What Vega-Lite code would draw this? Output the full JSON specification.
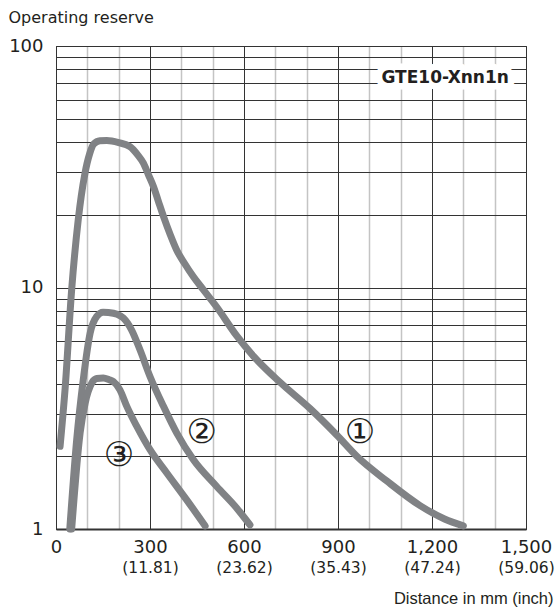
{
  "$schema": "https://vega.github.io/schema/vega-lite/v6.json",
  "width": 470,
  "height": 483,
  "autosize": {"type": "none"},
  "padding": {"left": 56, "top": 46, "right": 29, "bottom": 82},
  "background": "white",
  "config": {
    "font": "DejaVu Sans",
    "view": {"stroke": "#333333", "strokeWidth": 1}
  },
  "datasets": {
    "curves": [
      {"curve": "1", "d": 13, "r": 2.2},
      {"curve": "1", "d": 29, "r": 3.8},
      {"curve": "1", "d": 50, "r": 9.8},
      {"curve": "1", "d": 71, "r": 19.1},
      {"curve": "1", "d": 92, "r": 29.5},
      {"curve": "1", "d": 108, "r": 36},
      {"curve": "1", "d": 120, "r": 39.2},
      {"curve": "1", "d": 140, "r": 40.5},
      {"curve": "1", "d": 162, "r": 40.6},
      {"curve": "1", "d": 200, "r": 39.8},
      {"curve": "1", "d": 236, "r": 38.3},
      {"curve": "1", "d": 260, "r": 35.5},
      {"curve": "1", "d": 279, "r": 32.7},
      {"curve": "1", "d": 295, "r": 29.3},
      {"curve": "1", "d": 311, "r": 26.2},
      {"curve": "1", "d": 327, "r": 22.7},
      {"curve": "1", "d": 343, "r": 19.7},
      {"curve": "1", "d": 365, "r": 16.5},
      {"curve": "1", "d": 385, "r": 14.3},
      {"curve": "1", "d": 410, "r": 12.6},
      {"curve": "1", "d": 438, "r": 11.1},
      {"curve": "1", "d": 470, "r": 9.8},
      {"curve": "1", "d": 513, "r": 8.3},
      {"curve": "1", "d": 577, "r": 6.3},
      {"curve": "1", "d": 630, "r": 5.2},
      {"curve": "1", "d": 715, "r": 4.05},
      {"curve": "1", "d": 811, "r": 3.15},
      {"curve": "1", "d": 896, "r": 2.45},
      {"curve": "1", "d": 960, "r": 2.0},
      {"curve": "1", "d": 1056, "r": 1.58},
      {"curve": "1", "d": 1162, "r": 1.25},
      {"curve": "1", "d": 1240, "r": 1.1},
      {"curve": "1", "d": 1300, "r": 1.03},
      {"curve": "2", "d": 44, "r": 1.0},
      {"curve": "2", "d": 66, "r": 2.34},
      {"curve": "2", "d": 87, "r": 4.15},
      {"curve": "2", "d": 109, "r": 6.48},
      {"curve": "2", "d": 130, "r": 7.59},
      {"curve": "2", "d": 150, "r": 7.9},
      {"curve": "2", "d": 167, "r": 7.88},
      {"curve": "2", "d": 195, "r": 7.75},
      {"curve": "2", "d": 215, "r": 7.47},
      {"curve": "2", "d": 241, "r": 6.68},
      {"curve": "2", "d": 268, "r": 5.52},
      {"curve": "2", "d": 300, "r": 4.28},
      {"curve": "2", "d": 343, "r": 3.22},
      {"curve": "2", "d": 385, "r": 2.5},
      {"curve": "2", "d": 438, "r": 1.94},
      {"curve": "2", "d": 513, "r": 1.5},
      {"curve": "2", "d": 577, "r": 1.22},
      {"curve": "2", "d": 619, "r": 1.04},
      {"curve": "3", "d": 50, "r": 1.0},
      {"curve": "3", "d": 77, "r": 2.5},
      {"curve": "3", "d": 93, "r": 3.32},
      {"curve": "3", "d": 114, "r": 4.02},
      {"curve": "3", "d": 130, "r": 4.2},
      {"curve": "3", "d": 151, "r": 4.22},
      {"curve": "3", "d": 170, "r": 4.15},
      {"curve": "3", "d": 183, "r": 4.08},
      {"curve": "3", "d": 204, "r": 3.77},
      {"curve": "3", "d": 226, "r": 3.22},
      {"curve": "3", "d": 258, "r": 2.66},
      {"curve": "3", "d": 300, "r": 2.13},
      {"curve": "3", "d": 353, "r": 1.71},
      {"curve": "3", "d": 417, "r": 1.32},
      {"curve": "3", "d": 476, "r": 1.03}
    ],
    "numbers": [
      {"label": "①", "d": 970, "r": 2.5},
      {"label": "②", "d": 465, "r": 2.5},
      {"label": "③", "d": 201, "r": 2.0}
    ],
    "model": [
      {"label": "GTE10-Xnn1n", "d": 1242, "r": 74}
    ]
  },
  "layer": [
    {
      "data": {"name": "curves"},
      "mark": {"type": "line", "interpolate": "monotone", "strokeWidth": 7, "color": "#808285", "strokeCap": "round", "strokeJoin": "round"},
      "encoding": {
        "x": {
          "field": "d", "type": "quantitative",
          "scale": {"domain": [0, 1500], "nice": false, "zero": false},
          "axis": {
            "orient": "bottom",
            "values": [100, 200, 400, 500, 700, 800, 1000, 1100, 1300, 1400],
            "grid": true, "gridColor": "#c4c4c4", "gridWidth": 1.5,
            "labels": false, "ticks": false, "domain": false, "title": null
          }
        },
        "y": {
          "field": "r", "type": "quantitative",
          "scale": {"type": "log", "domain": [1, 100], "nice": false},
          "axis": {
            "orient": "left",
            "values": [1, 2, 3, 4, 5, 6, 7, 8, 9, 10, 20, 30, 40, 50, 60, 70, 80, 90, 100],
            "format": ".0f",
            "labelExpr": "(datum.value == 1 || datum.value == 10 || datum.value == 100) ? datum.label : ''",
            "labelOverlap": false,
            "grid": true, "gridColor": "#333333", "gridWidth": 1,
            "ticks": false, "domain": true, "domainColor": "#333333", "domainWidth": 1,
            "labelFontSize": 18, "labelColor": "#231f20", "labelPadding": 13,
            "title": "Operating reserve",
            "titleAngle": 0, "titleAlign": "left", "titleBaseline": "middle",
            "titleX": -48, "titleY": -29,
            "titleFontSize": 16, "titleFontWeight": "normal", "titleColor": "#231f20"
          }
        },
        "detail": {"field": "curve"}
      }
    },
    {
      "data": {"name": "model"},
      "mark": {"type": "text", "fontWeight": "bold", "fontSize": 17, "fill": "white", "stroke": "white", "strokeWidth": 13, "strokeJoin": "round", "align": "center", "baseline": "middle"},
      "encoding": {
        "x": {
          "field": "d", "type": "quantitative",
          "scale": {"domain": [0, 1500], "nice": false, "zero": false},
          "axis": {
            "orient": "bottom",
            "values": [0, 300, 600, 900, 1200, 1500],
            "format": ",.0f",
            "labelOverlap": false, "labelFlush": false,
            "grid": true, "gridColor": "#333333", "gridWidth": 1,
            "ticks": false, "domain": true, "domainColor": "#333333", "domainWidth": 2,
            "labelFontSize": 18, "labelColor": "#231f20", "labelPadding": 9,
            "title": "Distance in mm (inch)",
            "titleFont": "Liberation Sans",
            "titleAlign": "right", "titleBaseline": "middle",
            "titleX": 497, "titleY": 69,
            "titleFontSize": 16.5, "titleFontWeight": "normal", "titleColor": "#231f20"
          }
        },
        "y": {
          "field": "r", "type": "quantitative",
          "scale": {"type": "log", "domain": [1, 100], "nice": false}
        },
        "text": {"field": "label"}
      }
    },
    {
      "data": {"name": "model"},
      "mark": {"type": "text", "fontWeight": "bold", "fontSize": 17, "fill": "#231f20", "align": "center", "baseline": "middle"},
      "encoding": {
        "x": {
          "field": "d", "type": "quantitative",
          "scale": {"domain": [0, 1500], "nice": false, "zero": false},
          "axis": {
            "orient": "bottom",
            "values": [300, 600, 900, 1200, 1500],
            "labelExpr": "'(' + format(datum.value / 25.4, '.2f') + ')'",
            "labelOverlap": false, "labelFlush": false,
            "grid": false, "ticks": false, "domain": false,
            "labelFontSize": 15.5, "labelColor": "#231f20", "labelPadding": 31,
            "title": null
          }
        },
        "y": {
          "field": "r", "type": "quantitative",
          "scale": {"type": "log", "domain": [1, 100], "nice": false}
        },
        "text": {"field": "label"}
      }
    },
    {
      "data": {"name": "numbers"},
      "mark": {"type": "text", "fontSize": 34, "fill": "#231f20", "align": "center", "baseline": "middle"},
      "encoding": {
        "x": {
          "field": "d", "type": "quantitative",
          "scale": {"domain": [0, 1500], "nice": false, "zero": false},
          "axis": null
        },
        "y": {
          "field": "r", "type": "quantitative",
          "scale": {"type": "log", "domain": [1, 100], "nice": false}
        },
        "text": {"field": "label"}
      }
    }
  ],
  "resolve": {"axis": {"x": "independent"}}
}
